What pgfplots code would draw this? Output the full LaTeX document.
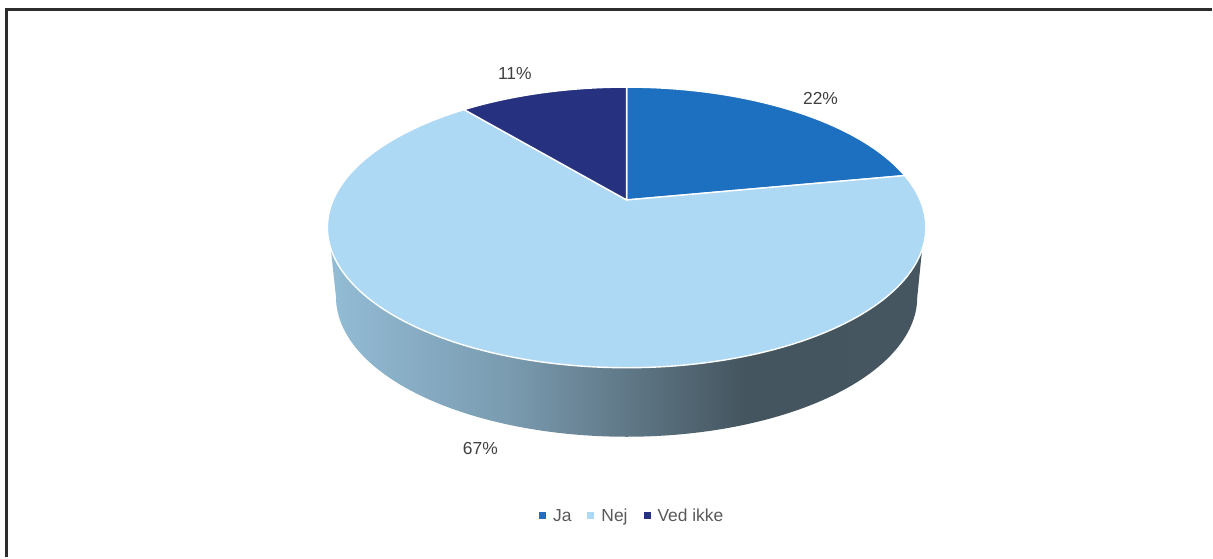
\documentclass[border=0pt]{standalone}
\usepackage{fontspec}
\setmainfont{Liberation Sans}
\usepackage{pgfplots}
\usepackage{pgfplotstable}
\pgfplotsset{compat=1.18}

\definecolor{jaBlue}{RGB}{29,112,191}
\definecolor{nejBlue}{RGB}{174,217,245}
\definecolor{vedNavy}{RGB}{38,50,128}
\definecolor{frameDark}{RGB}{45,45,45}
\definecolor{labelGrey}{RGB}{64,64,64}
\definecolor{legendGrey}{RGB}{89,89,89}

% Side wall of the disc: bright on the left, dark from about two thirds across
\pgfdeclarehorizontalshading{wallshade}{100bp}{
  rgb(0bp)=(0.576,0.737,0.835);
  rgb(25bp)=(0.576,0.737,0.835);
  rgb(40bp)=(0.478,0.608,0.690);
  rgb(50bp)=(0.376,0.471,0.529);
  rgb(60bp)=(0.267,0.333,0.373);
  rgb(75bp)=(0.275,0.337,0.376);
  rgb(100bp)=(0.275,0.337,0.376)}

% Shares of the answers, clockwise from twelve o'clock
\pgfplotstableread{
name  share
Ja    22
Nej   67
Ved   11
}\answers

\pgfplotstablegetelem{0}{share}\of\answers \let\shareJa\pgfplotsretval
\pgfplotstablegetelem{1}{share}\of\answers \let\shareNej\pgfplotsretval
\pgfplotstablegetelem{2}{share}\of\answers \let\shareVed\pgfplotsretval
\pgfmathsetmacro{\angA}{3.6*\shareJa}
\pgfmathsetmacro{\angB}{3.6*(\shareJa+\shareNej)}

% Top face: a circle under perspective, so its centre sits above the ellipse centre
\pgfplotsset{
  /pgf/declare function={
    rimx(\t) = 627.4 + 299.6*0.9807*sin(\t)/(1+0.1957*cos(\t));
    rimy(\t) = 227.7 - 140.5*(cos(\t)+0.1957)/(1+0.1957*cos(\t));
  }
}

\begin{document}
\begin{tikzpicture}
\begin{axis}[
  x=1bp, y=1bp, scale only axis,
  xmin=0, xmax=1213, ymin=0, ymax=558,
  y dir=reverse,
  hide axis,
  clip=false,
  legend columns=3,
  legend style={
    at={(axis cs:633,516.5)}, anchor=center,
    draw=none, fill=none,
    font=\fontsize{17.5}{20}\selectfont\color{legendGrey},
    inner sep=0pt,
    /tikz/every odd column/.style={column sep=5bp},
    /tikz/every even column/.style={column sep=14bp},
  },
  legend image code/.code={
    \path[#1,draw=none] (0bp,-3.5bp) rectangle (7bp,3.5bp);
  },
]
  % page extent
  \addplot[forget plot, draw=none] coordinates {(0,0) (1213,558)};

  % frame, open to the right and at the bottom
  \addplot[forget plot, draw=frameDark, line width=3bp] coordinates {(7,558) (7,9.2) (1213,9.2)};

  % side wall
  \addplot[forget plot, draw=none, shading=wallshade, domain=180:360, samples=121, variable=\t]
    ({627.4+291*cos(\t)},{297.3-140*sin(\t)})
    -- (axis cs:923.5,247) -- (axis cs:331,247) -- cycle;

  % top face slices
  \addplot[draw=white, line width=1.4bp, fill=jaBlue, domain=0:\angA, samples=61, variable=\t]
    ({rimx(\t)},{rimy(\t)}) -- (axis cs:627.4,200.2) -- cycle;
  \addlegendentry{Ja}
  \addplot[draw=white, line width=1.4bp, fill=nejBlue, domain=\angA:\angB, samples=181, variable=\t]
    ({rimx(\t)},{rimy(\t)}) -- (axis cs:627.4,200.2) -- cycle;
  \addlegendentry{Nej}
  \addplot[draw=white, line width=1.4bp, fill=vedNavy, domain=\angB:360, samples=41, variable=\t]
    ({rimx(\t)},{rimy(\t)}) -- (axis cs:627.4,200.2) -- cycle;
  \addlegendentry{Ved ikke}

  % value labels
  \node[text=labelGrey, font=\fontsize{17.5}{20}\selectfont] at (axis cs:821.5,99) {\shareJa\%};
  \node[text=labelGrey, font=\fontsize{17.5}{20}\selectfont] at (axis cs:481,449) {\shareNej\%};
  \node[text=labelGrey, font=\fontsize{17.5}{20}\selectfont] at (axis cs:515.5,74) {\shareVed\%};
\end{axis}
\end{tikzpicture}
\end{document}
